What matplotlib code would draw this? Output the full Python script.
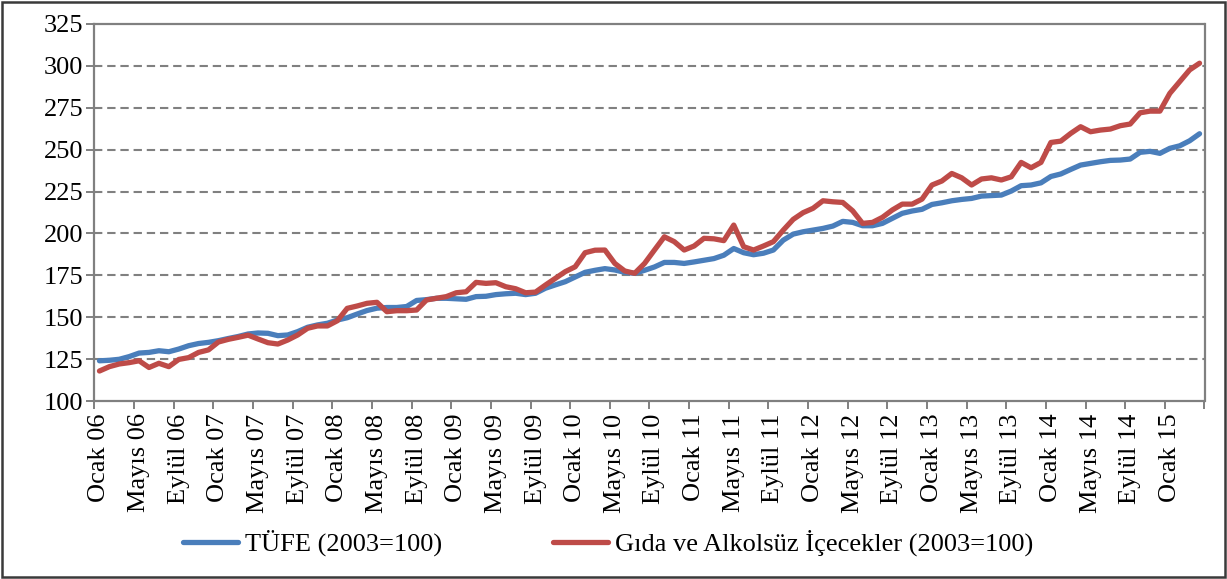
import numpy as np
import matplotlib.pyplot as plt
from matplotlib.patches import Rectangle

plt.rcParams['font.family'] = ['Liberation Serif', 'DejaVu Serif']
plt.rcParams['lines.scale_dashes'] = False

# Monthly categories: Ocak 2006 - Nisan 2015
month_names = ["Ocak", "Şubat", "Mart", "Nisan", "Mayıs", "Haziran",
               "Temmuz", "Ağustos", "Eylül", "Ekim", "Kasım", "Aralık"]
years = ["06", "07", "08", "09", "10", "11", "12", "13", "14", "15"]
categories = [f"{m} {y}" for y in years for m in month_names][:112]

# TÜFE (2003=100)
tufe = [124.0, 124.3, 124.9, 126.5, 128.6, 129.0, 130.0, 129.4, 131.0, 133.0, 134.3, 135.0,
        136.0, 137.3, 138.5, 140.0, 140.6, 140.4, 139.0, 139.4, 141.4, 144.0, 145.4, 146.4,
        148.3, 149.7, 151.9, 154.0, 155.4, 155.8, 155.8, 156.4, 160.0, 160.5, 161.3, 161.3,
        161.0, 160.7, 162.3, 162.5, 163.5, 164.0, 164.3, 163.5, 164.3, 167.3, 169.3, 171.2,
        174.0, 176.8, 178.0, 179.0, 178.2, 176.8, 176.2, 178.0, 180.0, 182.7, 182.7, 182.1,
        183.0, 184.0, 185.0, 187.0, 191.0, 188.5, 187.3, 188.2, 190.1, 196.0, 199.6, 201.0,
        202.0, 203.0, 204.4, 207.2, 206.6, 204.6, 204.6, 206.0, 209.0, 212.0, 213.4, 214.4,
        217.3, 218.3, 219.5, 220.3, 220.9, 222.3, 222.6, 222.9, 225.3, 228.5, 228.9, 230.2,
        234.0, 235.5, 238.2, 240.8, 241.8, 242.8, 243.6, 243.8, 244.4, 248.4, 249.0, 247.8,
        250.8, 252.3, 255.3, 259.5]

# Gıda ve Alkolsüz İçecekler (2003=100)
gida = [117.9, 120.5, 122.1, 122.9, 124.0, 120.0, 122.5, 120.5, 124.8, 125.9, 129.0, 130.5,
        135.2, 136.8, 138.0, 139.3, 137.0, 134.8, 134.0, 136.4, 139.4, 143.4, 144.8, 144.8,
        147.9, 155.3, 156.7, 158.3, 158.9, 153.3, 153.9, 153.9, 154.3, 160.3, 161.3, 162.3,
        164.6, 165.2, 170.8, 170.2, 170.6, 168.2, 167.0, 164.6, 165.0, 169.2, 173.2, 177.2,
        180.1, 188.5, 190.0, 190.1, 182.1, 177.6, 176.2, 182.1, 190.1, 198.0, 195.1, 190.1,
        192.5, 197.1, 196.8, 195.7, 205.0, 192.1, 190.1, 192.5, 195.1, 202.0, 208.4, 212.4,
        215.0, 219.5, 218.9, 218.5, 213.5, 206.0, 206.6, 209.6, 214.0, 217.5, 217.5, 220.5,
        228.9, 231.3, 235.8, 233.2, 228.9, 232.5, 233.2, 231.9, 233.8, 242.4, 239.2, 242.4,
        254.3, 255.1, 259.7, 263.7, 260.7, 261.7, 262.3, 264.3, 265.3, 272.0, 273.0, 273.0,
        283.6, 290.6, 297.6, 301.6]

W, H = 1227, 579
fig = plt.figure(figsize=(W / 100, H / 100), dpi=100)
ax = fig.add_axes([94.5 / W, 1 - 401 / H, 1110 / W, 377 / H])

x = np.arange(len(categories))
ax.plot(x, tufe, color='#4A7EBB', lw=3.8, solid_joinstyle='round',
        solid_capstyle='round', label="TÜFE (2003=100)", zorder=3)
ax.plot(x, gida, color='#BE4B48', lw=3.8, solid_joinstyle='round',
        solid_capstyle='round', label="Gıda ve Alkolsüz İçecekler (2003=100)", zorder=4)

grey = '#808080'
for yv in range(125, 325, 25):
    ax.axhline(yv, color=grey, lw=1.5, ls=(0, (6, 3.5)), zorder=1)

ax.set_xlim(-0.5, len(categories) - 0.5)
ax.set_ylim(100, 325)
ax.set_yticks(range(100, 326, 25))
ax.tick_params(axis='y', length=6, width=1.4, color=grey, labelsize=19, pad=2)

# ticks between categories every 4 months, labels on the categories
ax.set_xticks(np.arange(-0.5, len(categories), 4))
ax.set_xticklabels([])
ax.tick_params(axis='x', which='major', length=6, width=1.4, color=grey)
lab_pos = np.arange(0, len(categories), 4)
ax.set_xticks(lab_pos, [categories[i] for i in lab_pos], minor=True)
ax.tick_params(axis='x', which='minor', length=0, labelsize=19, rotation=90, pad=9)

for sp in ax.spines.values():
    sp.set_color(grey)
    sp.set_linewidth(1.6)

fig.legend(loc='center', bbox_to_anchor=(608 / W, 1 - 543 / H), ncol=2, frameon=False,
           fontsize=19, handlelength=2.1, handletextpad=0.25, columnspacing=4.2)

fig.patches.append(Rectangle((2 / W, 2 / H), 1 - 4 / W, 1 - 4 / H, transform=fig.transFigure,
                             fill=False, ec='#3a3a3a', lw=1.8))

fig.savefig("out.png", dpi=100)
